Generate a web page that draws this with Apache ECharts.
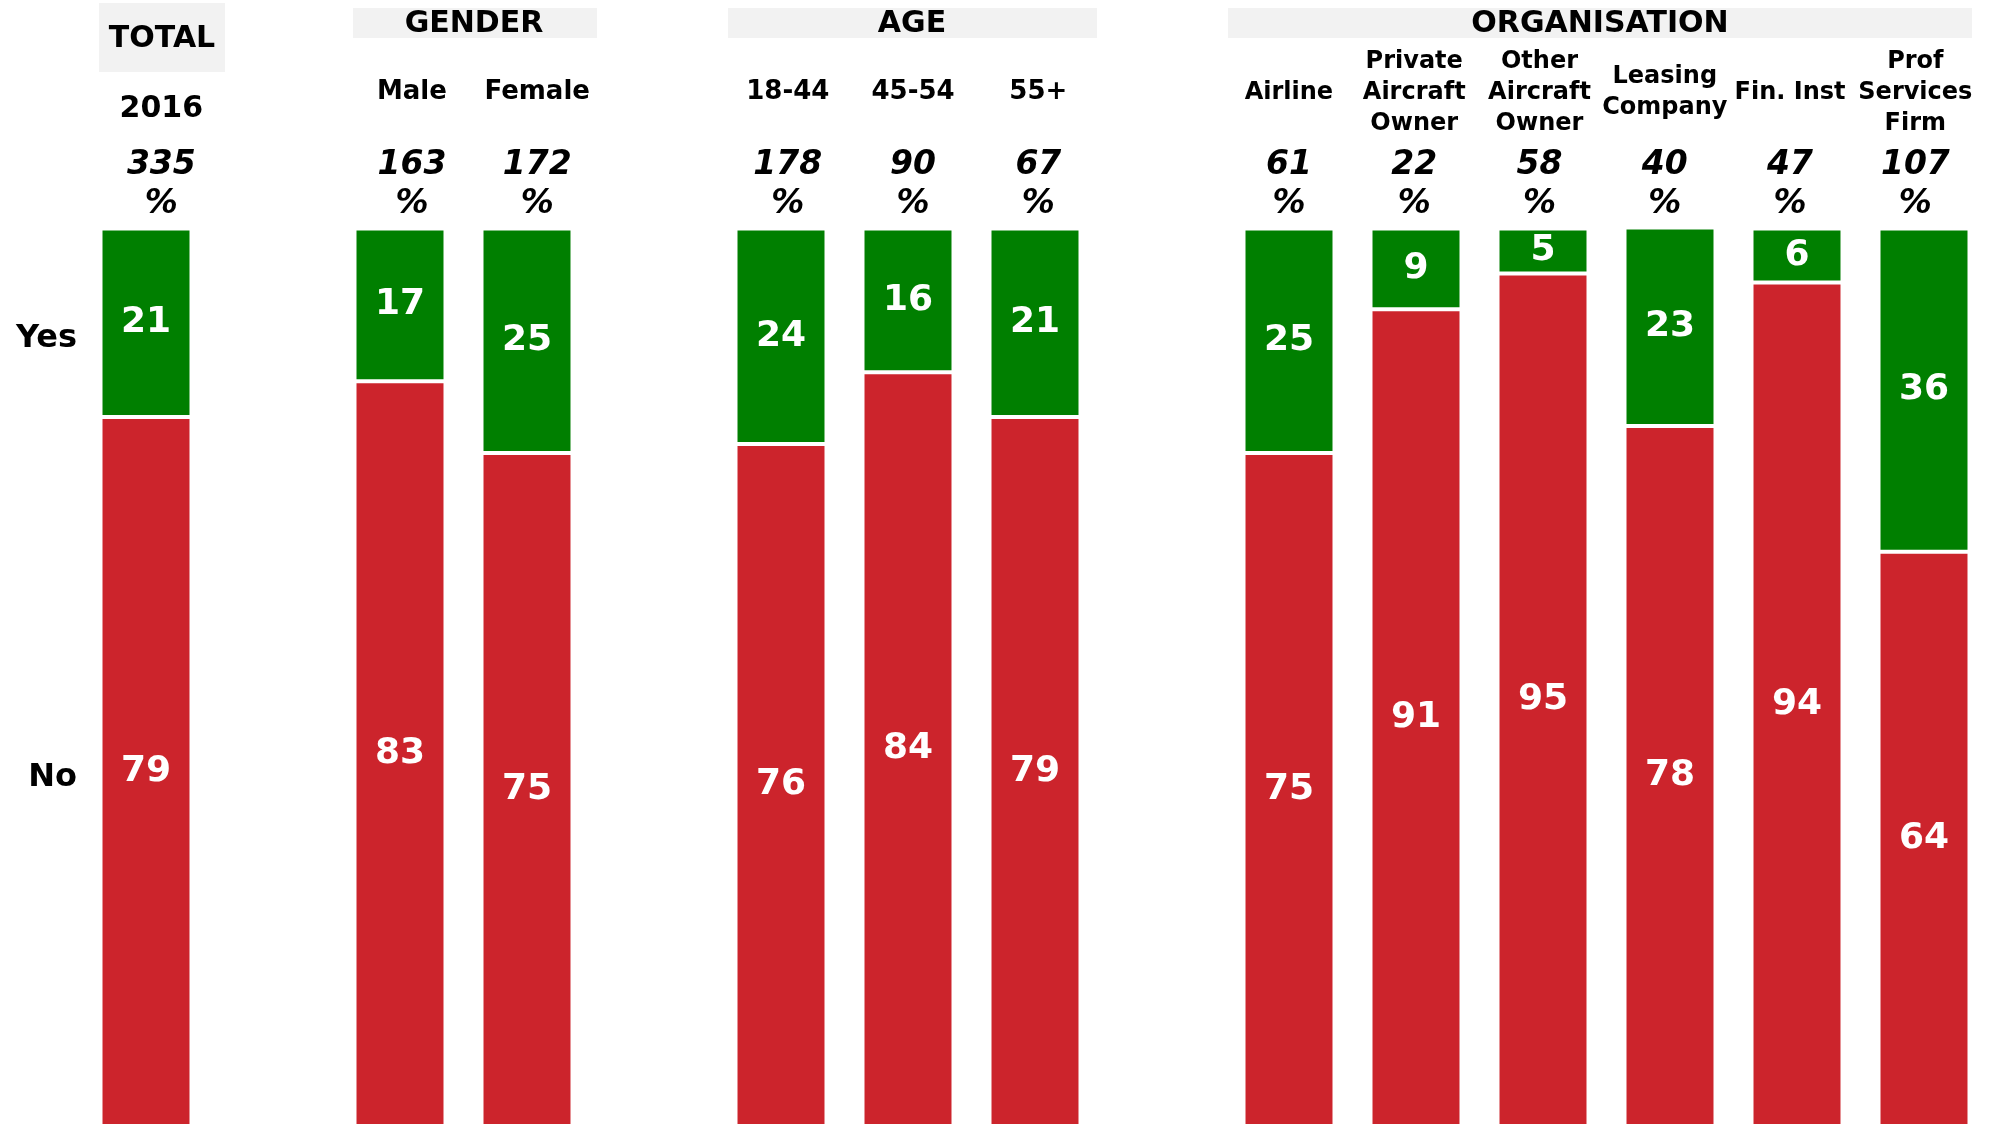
<!DOCTYPE html>
<html>
<head>
<meta charset="utf-8">
<style>
  html, body { margin: 0; padding: 0; background: #ffffff; }
  #chart { width: 1991px; height: 1126px; }
</style>
<script src="https://cdn.jsdelivr.net/npm/echarts@6/dist/echarts.min.js"></script>
</head>
<body>
<div id="chart"></div>
<script>
// Column slots: blank entries are the spacers between groups
const categories = ['2016', '', 'Male', 'Female', '', '18-44', '45-54', '55+', '',
  'Airline', 'Private\nAircraft\nOwner', 'Other\nAircraft\nOwner', 'Leasing\nCompany', 'Fin. Inst', 'Prof\nServices\nFirm'];

// Base sizes (number of respondents) per column
const baseSizes = [335, null, 163, 172, null, 178, 90, 67, null, 61, 22, 58, 40, 47, 107];

// Percentages answering Yes / No
const yesValues = [21, '-', 17, 25, '-', 24, 16, 21, '-', 25, 9, 5, 23, 6, 36];
const noValues  = [79, '-', 83, 75, '-', 76, 84, 79, '-', 75, 91, 95, 78, 94, 64];

// Group headings drawn above the columns
const groupHeadings = ['TOTAL', 'GENDER', 'AGE', 'ORGANISATION'];
const answerLabels = ['Yes', 'No'];

const FONT = 'DejaVu Sans';
const GREEN = '#007f00';
const RED = '#cc242c';
const HEAD_BG = '#f2f2f2';

const chart = echarts.init(document.getElementById('chart'), null, { renderer: 'canvas' });

const valueLabel = {
  show: true,
  position: 'inside',
  color: '#ffffff',
  fontFamily: FONT,
  fontWeight: 'bold',
  fontSize: 36
};

// single-line demographic labels are set a little larger than the organisation ones
const bigLabels = ['Male', 'Female', '18-44', '45-54', '55+'];

const option = {
  backgroundColor: '#ffffff',
  animation: false,
  grid: [
    { left: 82.5, right: 3.5, top: 228.6, bottom: 0, containLabel: false },
    // header columns sit on a slightly offset, narrower grid
    { left: 98.7, right: 13, top: 228.6, bottom: 0, containLabel: false }
  ],
  xAxis: [
    {
      type: 'category',
      gridIndex: 0,
      data: categories,
      position: 'bottom',
      axisLine: { show: false },
      axisTick: { show: false },
      axisLabel: { show: false }
    },
    {
      type: 'category',
      gridIndex: 1,
      data: categories,
      position: 'top',
      axisLine: { show: false },
      axisTick: { show: false },
      axisLabel: {
        interval: 0,
        margin: 136,
        verticalAlign: 'middle',
        formatter: (v, i) => i === 0 ? '{yr|' + v + '}' : (bigLabels.indexOf(v) >= 0 ? '{b|' + v + '}' : '{c|' + v + '}'),
        rich: {
          c: { fontFamily: FONT, fontWeight: 'bold', fontSize: 24, lineHeight: 31, color: '#000', align: 'center' },
          b: { fontFamily: FONT, fontWeight: 'bold', fontSize: 26, lineHeight: 31, color: '#000', align: 'center' },
          yr: { fontFamily: FONT, fontWeight: 'bold', fontSize: 30, lineHeight: 31, color: '#000', padding: [33, 0, 0, 0] }
        }
      }
    },
    {
      type: 'category',
      gridIndex: 1,
      data: baseSizes.map(v => v == null ? '' : v + '\n%'),
      position: 'top',
      axisLine: { show: false },
      axisTick: { show: false },
      axisLabel: {
        interval: 0,
        margin: 43.5,
        verticalAlign: 'middle',
        fontFamily: FONT,
        fontWeight: 'bold',
        fontStyle: 'italic',
        fontSize: 33,
        lineHeight: 39,
        color: '#000'
      }
    }
  ],
  yAxis: [
    { type: 'value', gridIndex: 0, min: 0, max: 100, show: false },
    { type: 'value', gridIndex: 1, min: 0, max: 100, show: false }
  ],
  series: [
    {
      name: answerLabels[1],
      type: 'bar',
      stack: 'answer',
      xAxisIndex: 0,
      yAxisIndex: 0,
      barWidth: 91,
      data: noValues,
      itemStyle: { color: RED, borderColor: '#ffffff', borderWidth: 2 },
      label: valueLabel
    },
    {
      name: answerLabels[0],
      type: 'bar',
      stack: 'answer',
      xAxisIndex: 0,
      yAxisIndex: 0,
      barWidth: 91,
      data: yesValues,
      itemStyle: { color: GREEN, borderColor: '#ffffff', borderWidth: 2 },
      label: valueLabel
    }
  ],
  graphic: [
    // heading panels
    { type: 'rect', shape: { x: 99, y: 3, width: 126, height: 69 }, style: { fill: HEAD_BG }, silent: true },
    { type: 'rect', shape: { x: 353, y: 8, width: 244, height: 30 }, style: { fill: HEAD_BG }, silent: true },
    { type: 'rect', shape: { x: 728, y: 8, width: 369, height: 30 }, style: { fill: HEAD_BG }, silent: true },
    { type: 'rect', shape: { x: 1228, y: 8, width: 744, height: 30 }, style: { fill: HEAD_BG }, silent: true },
    { type: 'text', x: 162, y: 39, style: { text: groupHeadings[0], font: 'bold 30px "DejaVu Sans"', fill: '#000', align: 'center', verticalAlign: 'middle' } },
    { type: 'text', x: 474, y: 24, style: { text: groupHeadings[1], font: 'bold 30px "DejaVu Sans"', fill: '#000', align: 'center', verticalAlign: 'middle' } },
    { type: 'text', x: 912, y: 24, style: { text: groupHeadings[2], font: 'bold 30px "DejaVu Sans"', fill: '#000', align: 'center', verticalAlign: 'middle' } },
    { type: 'text', x: 1600, y: 24, style: { text: groupHeadings[3], font: 'bold 30px "DejaVu Sans"', fill: '#000', align: 'center', verticalAlign: 'middle' } },
    // answer row labels
    { type: 'text', x: 77, y: 339, style: { text: answerLabels[0], font: 'bold 32px "DejaVu Sans"', fill: '#000', align: 'right', verticalAlign: 'middle' } },
    { type: 'text', x: 77, y: 778, style: { text: answerLabels[1], font: 'bold 32px "DejaVu Sans"', fill: '#000', align: 'right', verticalAlign: 'middle' } }
  ]
};

chart.setOption(option);
</script>
</body>
</html>
